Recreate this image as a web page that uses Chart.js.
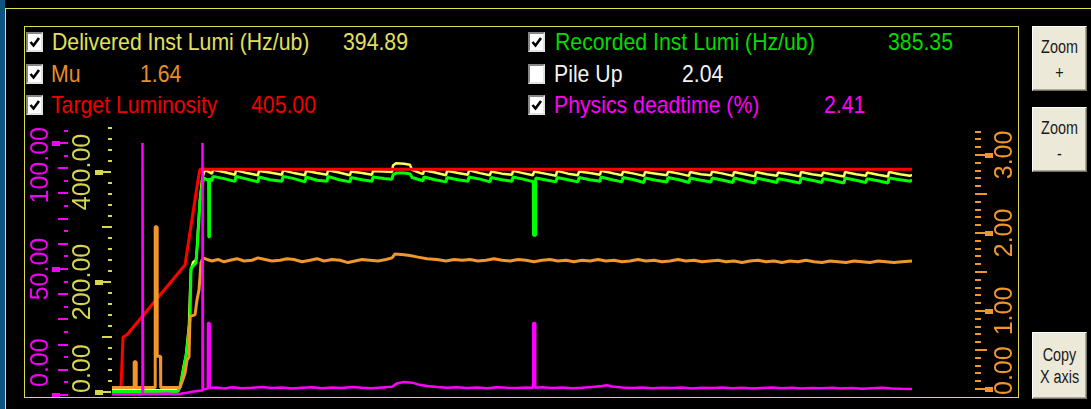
<!DOCTYPE html>
<html>
<head>
<meta charset="utf-8">
<title>Instantaneous luminosity</title>
<script src="https://cdn.jsdelivr.net/npm/chart.js@4.4.1/dist/chart.umd.min.js"></script>
<style>
  html, body { margin:0; padding:0; background:#000; }
  #panel { position:relative; width:1091px; height:409px; overflow:hidden; background:#000;
           font-family:"Liberation Sans", Arial, sans-serif; }
  #edge  { position:absolute; left:0; top:0; width:5px; height:409px; background:#0e5480; }
  #outer { position:absolute; left:5px; top:8px; width:1200px; height:500px;
           border-left:1px solid #e4e450; border-top:1px solid #e4e450; }
  #inner { position:absolute; left:24px; top:26px; width:993px; height:370px; border:1px solid #dcdc4c; }
  #plot  { position:absolute; left:24px; top:118px; }
  .box { position:absolute; width:13px; height:16px; background:#fff; border:2px solid;
         border-color:#858585 #e2e2e2 #e2e2e2 #858585; }
  .box svg { position:absolute; left:0; top:0; }
  .txt { position:absolute; font-size:24px; line-height:24px; white-space:nowrap;
         transform:scaleX(0.885); transform-origin:0 0; }
  .btn { position:absolute; left:1032px; width:55px; background:#ece9d8; border:1px solid;
         border-color:#ffffff #716f64 #716f64 #ffffff; box-shadow:inset -1px -1px 0 #aca899;
         color:#1a1a1a; text-align:center; font-size:18px; box-sizing:border-box; }
  .btn div { transform:scaleX(0.8); }
</style>
</head>
<body>
<div id="panel">
  <div id="edge"></div>
  <div id="outer"></div>
  <div id="inner"></div>
  <div id="legend"></div>
  <div class="btn" style="top:26px;height:65px;padding-top:7px;line-height:26px;"><div>Zoom</div><div>+</div></div>
  <div class="btn" style="top:107px;height:65px;padding-top:7px;line-height:26px;"><div>Zoom</div><div>-</div></div>
  <div class="btn" style="top:332px;height:67px;padding-top:11px;line-height:22px;"><div>Copy</div><div>X axis</div></div>
  <canvas id="plot" width="994" height="279"></canvas>
</div>
<script>
// Minutes since start of fill, and the monitored quantities.
const deliveredMin = [
  0, 66, 68, 70, 72, 74, 77, 78, 79, 81, 84, 85, 86, 88, 90, 92, 94, 100,
  101, 112, 123, 124, 135, 146, 147, 158, 170, 171, 182, 193,
  194, 205, 215, 216, 227, 238, 239, 250, 260, 261, 272, 280,
  281, 284, 292, 298, 300, 311,
  312, 323, 334, 335, 346, 356, 357, 368, 378, 379, 390, 400,
  401, 411, 421, 422, 433, 444, 445, 456, 466, 467, 478, 488,
  489, 500, 510, 511, 522, 532, 533, 544, 555, 556, 567, 577,
  578, 589, 599, 600, 611, 621, 622, 633, 643, 644, 655, 665,
  666, 677, 688, 689, 700, 710, 711, 722, 732, 733, 744, 754,
  755, 766, 776, 777, 788, 798, 800
];
const deliveredLumi = [
  3, 3, 8, 30, 50, 67, 122, 180, 222, 236, 240, 260, 295, 349, 385, 400, 403, 397,
  404, 400, 395, 403, 398, 394, 402, 399, 395, 403, 398, 394,
  402, 398, 395, 403, 399, 394, 401, 398, 395, 402, 401, 400,
  412, 416, 415, 413, 404, 396,
  403, 399, 394, 402, 398, 395, 403, 398, 394, 401, 397, 395,
  402, 398, 394, 401, 397, 393, 402, 397, 394, 401, 398, 395,
  402, 398, 394, 401, 397, 393, 400, 397, 394, 401, 397, 393,
  400, 396, 394, 401, 397, 393, 400, 396, 392, 400, 396, 393,
  399, 396, 392, 400, 396, 393, 399, 395, 392, 400, 396, 393,
  399, 395, 392, 400, 396, 393, 394.89
];

const recordedMin = [
  0, 66, 68, 71, 75, 78, 79, 84, 86, 88, 90, 92, 95, 96.6, 96.8, 97.3, 97.5, 100,
  101, 112, 123, 124, 135, 146, 147, 158, 170, 171, 182, 193,
  194, 205, 215, 216, 227, 238, 239, 250, 260, 261, 272, 280,
  281, 284, 292, 298, 300, 311,
  312, 323, 334, 335, 346, 356, 357, 368, 378, 379, 390, 400,
  401, 411, 420, 421.3, 421.5, 423.5, 423.7, 433, 444,
  445, 456, 466, 467, 478, 488, 489, 500, 510, 511, 522, 532,
  533, 544, 555, 556, 567, 577, 578, 589, 599, 600, 611, 621,
  622, 633, 643, 644, 655, 665, 666, 677, 688, 689, 700, 710,
  711, 722, 732, 733, 744, 754, 755, 766, 776, 777, 788, 798, 800
];
const recordedLumi = [
  1, 1, 10, 35, 76, 135, 225, 235, 285, 349, 376, 389, 386, 386, 282, 282, 388, 384,
  392, 388, 383, 392, 387, 382, 391, 386, 383, 392, 388, 382,
  391, 385, 383, 392, 386, 382, 390, 386, 383, 391, 388, 387,
  395, 398, 398, 397, 390, 384,
  391, 386, 382, 390, 386, 383, 391, 387, 382, 390, 386, 383,
  391, 387, 383, 383, 285, 285, 389, 386, 382,
  390, 386, 382, 390, 386, 383, 391, 386, 382, 390, 386, 381,
  389, 385, 382, 390, 386, 381, 389, 385, 382, 389, 385, 381,
  389, 384, 380, 389, 385, 381, 388, 384, 380, 389, 385, 381,
  388, 384, 380, 389, 385, 381, 388, 384, 380, 389, 386, 383, 385.35
];

const targetMin  = [9, 10, 11, 15, 73, 86, 88, 800];
const targetLumi = [9, 53, 100, 104, 231, 385, 405, 405];

const muMin = [
  0, 22, 22.2, 24, 24.2, 43, 43.2, 45, 45.2, 48.5, 48.7,
  68, 70, 73, 75, 77, 78, 83, 85, 87, 88, 89, 91,
  95, 100, 106, 112, 118, 125, 132, 140, 146, 153, 160, 168,
  175, 182, 190, 198, 205, 212, 220, 228, 236, 243, 250, 258,
  266, 274, 280, 283, 292, 298, 306, 315, 325, 334, 342, 350,
  358, 366, 374, 382, 390, 398, 406, 414, 422, 430, 438, 446,
  454, 462, 470, 478, 486, 494, 502, 510, 518, 526, 534, 542,
  550, 558, 566, 574, 582, 590, 598, 606, 614, 622, 630, 638,
  646, 654, 662, 670, 678, 686, 694, 702, 710, 718, 726, 734,
  742, 750, 758, 766, 774, 782, 790, 800
];
const muValue = [
  0.02, 0.02, 0.35, 0.35, 0.02, 0.02, 2.08, 2.08, 0.42, 0.42, 0.02,
  0.02, 0.09, 0.2, 0.37, 0.41, 0.93, 0.95, 1.14, 1.27, 1.44, 1.62, 1.68,
  1.66, 1.64, 1.66, 1.63, 1.65, 1.67, 1.64, 1.65, 1.68, 1.66, 1.64, 1.65,
  1.67, 1.66, 1.63, 1.65, 1.67, 1.64, 1.66, 1.65, 1.62, 1.64, 1.66, 1.65,
  1.64, 1.66, 1.68, 1.73, 1.72, 1.71, 1.69, 1.67, 1.66, 1.64, 1.66, 1.65,
  1.66, 1.64, 1.65, 1.67, 1.65, 1.64, 1.66, 1.65, 1.63, 1.65, 1.66, 1.64,
  1.65, 1.63, 1.65, 1.64, 1.66, 1.64, 1.65, 1.63, 1.64, 1.66, 1.64, 1.65,
  1.63, 1.64, 1.66, 1.64, 1.65, 1.63, 1.64, 1.65, 1.63, 1.64, 1.62, 1.64,
  1.65, 1.63, 1.64, 1.62, 1.64, 1.63, 1.65, 1.63, 1.62, 1.64, 1.63, 1.62,
  1.64, 1.63, 1.62, 1.64, 1.63, 1.62, 1.63, 1.64
];

const deadMin = [
  0, 30, 30.2, 30.8, 31, 45, 55, 62, 68, 75, 80, 85,
  90, 90.2, 90.8, 91, 94, 95.8, 96, 97.5, 97.7, 105, 112, 120,
  130, 140, 150, 160, 170, 180, 190, 200, 210, 220, 230, 240,
  250, 260, 270, 280, 285, 292, 300, 306, 315, 325, 335, 345,
  355, 365, 375, 385, 395, 405, 415, 421, 421.2, 423, 423.2, 430,
  440, 450, 460, 470, 480, 490, 495, 500, 510, 520, 530, 540,
  550, 560, 570, 580, 590, 600, 610, 620, 630, 640, 650, 660,
  670, 680, 690, 700, 710, 720, 730, 740, 750, 760, 770, 780,
  790, 800
];
const deadPct = [
  0.3, 0.3, 100, 100, 0.4, 0.4, 0.6, 0.3, 0.5, 0.9, 1.3, 1.6,
  1.8, 100, 100, 2.2, 2.4, 2.6, 28.6, 28.6, 2.8, 3.0, 2.6, 3.1,
  2.7, 2.9, 3.2, 2.8, 3.0, 2.6, 2.9, 3.1, 2.7, 3.0, 2.8, 3.2,
  2.9, 2.7, 3.0, 3.3, 4.6, 5.2, 4.9, 4.2, 3.6, 3.2, 2.9, 3.1,
  2.8, 3.0, 2.7, 3.1, 2.9, 2.8, 3.0, 2.8, 28.6, 28.6, 2.9, 3.1,
  2.8, 3.0, 2.7, 2.9, 3.2, 3.6, 3.9, 3.4, 3.0, 2.8, 3.0, 2.7,
  2.9, 2.8, 3.0, 2.6, 2.9, 2.8, 3.0, 2.7, 2.9, 2.6, 2.8, 3.0,
  2.7, 2.9, 2.6, 2.8, 2.7, 2.9, 2.6, 2.8, 2.5, 2.7, 2.9, 2.6,
  2.5, 2.41
];

const pileUpNow = 2.04;

// Labelled ticks on each vertical axis.
const lumiTicks = [0, 200, 400];
const deadTicks = [0, 50, 100];
const muTicks   = [0, 1, 2, 3];

const last = a => a[a.length - 1];

// ---- legend with check boxes and current readings ----
const legendRows = [
  { box: [26, 32],  on: true,  name: 'Delivered Inst Lumi (Hz/ub)', nameX: 52,  value: last(deliveredLumi), valueX: 343, top: 30, color: '#e0e05e' },
  { box: [26, 64],  on: true,  name: 'Mu',                          nameX: 51,  value: last(muValue),       valueX: 140, top: 62, color: '#e88c2a' },
  { box: [26, 95],  on: true,  name: 'Target Luminosity',           nameX: 51,  value: last(targetLumi),    valueX: 251, top: 93, color: '#f00000' },
  { box: [528, 32], on: true,  name: 'Recorded Inst Lumi (Hz/ub)',  nameX: 555, value: last(recordedLumi),  valueX: 888, top: 30, color: '#00dc00' },
  { box: [528, 64], on: false, name: 'Pile Up',                     nameX: 554, value: pileUpNow,           valueX: 682, top: 62, color: '#f2f2f2' },
  { box: [528, 95], on: true,  name: 'Physics deadtime (%)',        nameX: 554, value: last(deadPct),       valueX: 824, top: 93, color: '#ff00ff' }
];
const legend = document.getElementById('legend');
for (const r of legendRows) {
  const b = document.createElement('div');
  b.className = 'box';
  b.style.left = r.box[0] + 'px';
  b.style.top = r.box[1] + 'px';
  if (r.on) {
    b.innerHTML = '<svg width="13" height="16" viewBox="0 0 13 16"><polyline points="2.5,8 5.5,11.5 11,4" fill="none" stroke="#000" stroke-width="2.6"/></svg>';
  }
  legend.appendChild(b);
  const n = document.createElement('div');
  n.className = 'txt';
  n.textContent = r.name;
  n.style.left = r.nameX + 'px';
  n.style.top = r.top + 'px';
  n.style.color = r.color;
  legend.appendChild(n);
  const v = document.createElement('div');
  v.className = 'txt';
  v.textContent = r.value.toFixed(2);
  v.style.left = r.valueX + 'px';
  v.style.top = r.top + 'px';
  v.style.color = r.color;
  legend.appendChild(v);
}

// ---- custom tick ladders for the three vertical axes ----
// Labels are centred on their tick but kept inside [highest, lowest] (canvas px).
function drawAxis(ctx, scale, o) {
  ctx.save();
  ctx.fillStyle = o.color;
  const n = Math.round(o.top / o.step);
  for (let i = 0; i <= n; i++) {
    const v = +(i * o.step).toFixed(4);
    const y = Math.round(scale.getPixelForValue(v));
    if (o.labels.includes(v)) {
      ctx.fillRect(o.square[0], y - 2, o.square[1] - o.square[0], 5);
      ctx.fillRect(o.line[0], y - 1, o.line[1] - o.line[0], 2);
    } else if (Math.abs(v / o.midEvery - Math.round(v / o.midEvery)) < 1e-6) {
      ctx.fillRect(o.mid[0], y - 1, o.mid[1] - o.mid[0], 2);
    } else {
      ctx.fillRect(o.minor[0], y - 1, o.minor[1] - o.minor[0], 2);
    }
  }
  ctx.font = '25px "Liberation Sans", Arial, sans-serif';
  ctx.textAlign = 'center';
  ctx.textBaseline = 'alphabetic';
  for (const v of o.labels) {
    const text = v.toFixed(2);
    const w = ctx.measureText(text).width;
    let y = scale.getPixelForValue(v);
    y = Math.min(y, o.lowest - w / 2);
    y = Math.max(y, o.highest + w / 2);
    ctx.save();
    ctx.translate(o.labelX, y);
    ctx.rotate(-Math.PI / 2);
    ctx.fillText(text, 0, 0);
    ctx.restore();
  }
  ctx.restore();
}

const axisPainter = {
  id: 'axisPainter',
  afterDraw(chart) {
    const ctx = chart.ctx;
    const s = chart.scales;
    drawAxis(ctx, s.dead, { color: '#f400f4', step: 5, top: 105, midEvery: 10, labels: deadTicks,
      minor: [40, 44], mid: [34, 44], line: [36, 44], square: [28, 36], labelX: 23.5, lowest: 269, highest: 9 });
    drawAxis(ctx, s.lumi, { color: '#d6d652', step: 20, top: 480, midEvery: 100, labels: lumiTicks,
      minor: [84, 88], mid: [78, 88], line: [79, 87], square: [71, 79], labelX: 66, lowest: 275, highest: 9 });
    drawAxis(ctx, s.mu, { color: '#f0962d', step: 0.1, top: 3.3, midEvery: 0.5, labels: muTicks,
      minor: [951, 957], mid: [951, 963], line: [951, 961], square: [961, 969], labelX: 988, lowest: 277, highest: 9 });
  }
};

const pts = (xs, ys) => xs.map((x, i) => ({ x, y: ys[i] }));

new Chart(document.getElementById('plot'), {
  type: 'line',
  data: {
    datasets: [
      { label: 'Physics deadtime (%)', data: pts(deadMin, deadPct), yAxisID: 'dead', borderColor: '#ff00ff', borderWidth: 2.5 },
      { label: 'Mu', data: pts(muMin, muValue), yAxisID: 'mu', borderColor: '#f0962d', borderWidth: 3 },
      { label: 'Target Luminosity', data: pts(targetMin, targetLumi), yAxisID: 'lumi', borderColor: '#ff0000', borderWidth: 3 },
      { label: 'Recorded Inst Lumi (Hz/ub)', data: pts(recordedMin, recordedLumi), yAxisID: 'lumi', borderColor: '#00ff00', borderWidth: 3 },
      { label: 'Delivered Inst Lumi (Hz/ub)', data: pts(deliveredMin, deliveredLumi), yAxisID: 'lumi', borderColor: '#ffff5c', borderWidth: 2.5 }
    ]
  },
  options: {
    responsive: false,
    animation: false,
    devicePixelRatio: 1,
    parsing: false,
    layout: { padding: { left: 88, right: 106, top: 10, bottom: 1 } },
    elements: {
      point: { radius: 0 },
      line: { tension: 0, borderJoinStyle: 'bevel', fill: false }
    },
    plugins: { legend: { display: false }, tooltip: { enabled: false } },
    scales: {
      x:    { type: 'linear', min: 0, max: 800, display: false },
      lumi: { type: 'linear', position: 'left', min: -7.3, max: 480, display: false },
      dead: { type: 'linear', position: 'left', min: -0.4, max: 106, display: false },
      mu:   { type: 'linear', position: 'right', min: -0.09, max: 3.345, display: false }
    }
  },
  plugins: [axisPainter]
});
</script>
</body>
</html>
